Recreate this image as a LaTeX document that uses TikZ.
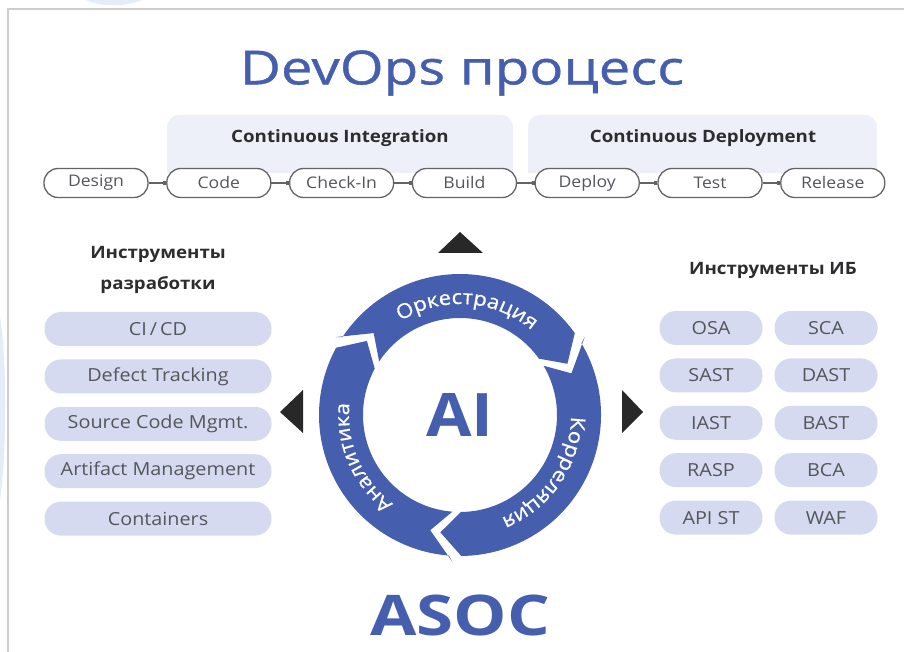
\documentclass[tikz,border=0pt]{standalone}
\usepackage{fontspec}
\setmainfont[FakeStretch=1.1]{Open Sans}
\newfontfamily\widefont[FakeStretch=1.2]{Open Sans}
\newfontfamily\titlefont[FakeStretch=1.2,FakeBold=0.8]{Open Sans}
\newfontfamily\ringfamily[FakeStretch=1.1,FakeBold=0.7]{Open Sans}
\usetikzlibrary{arrows.meta,shapes,positioning,decorations.text}
\definecolor{asocblue}{RGB}{70,94,174}
\definecolor{pilllav}{RGB}{214,218,240}
\definecolor{cibg}{RGB}{237,239,249}
\definecolor{darktext}{RGB}{45,45,48}
\definecolor{graytext}{RGB}{85,85,92}
\definecolor{pillline}{RGB}{100,100,100}
\definecolor{framegray}{RGB}{205,205,205}
\definecolor{marktri}{RGB}{40,40,40}
\definecolor{swirl}{RGB}{228,236,248}
\newcommand{\ringfont}{\ringfamily\fontsize{20}{20}\selectfont}
% one blue piece of the ring, clockwise from #1 to #2
\newcommand{\ringpart}[2]{\fill[asocblue] ({#1+1.5}:147) -- (#1:141) arc[start angle=#1, end angle=#2, radius=141] -- ({#2-10}:119) -- (#2:97) arc[start angle=#2, end angle=#1, radius=97] -- ({#1-10}:119) -- cycle;}
\tikzset{
  stage/.style={draw=pillline, line width=1.3pt, fill=white, rounded corners=14pt, minimum width=104pt, minimum height=29pt, inner sep=0pt, text=graytext, font=\fontsize{16}{16}\selectfont},
  tool/.style={fill=pilllav, rounded corners=16.5pt, minimum height=34pt, inner sep=0pt, text=graytext, font=\fontsize{18}{18}\selectfont},
  devtool/.style={tool, minimum width=227pt},
  sectool/.style={tool, minimum width=103pt},
  link/.style={draw=pillline, line width=1.3pt, -{Square[length=3pt,width=4.5pt]}},
  phase/.style={fill=cibg, rounded corners=12pt},
  head/.style={text=darktext, font=\bfseries\fontsize{17}{31}\selectfont, align=center},
  marker/.style={fill=marktri}
}
\begin{document}
\begin{tikzpicture}[x=1pt,y=1pt]
\useasboundingbox (0,0) rectangle (904,651);
%faint background and frame
\fill[swirl] (86,651) .. controls (100,644) and (125,644) .. (142,651) -- cycle;
\fill[swirl] (0,335) .. controls (7,290) and (7,200) .. (0,150) -- cycle;
\draw[framegray, line width=2pt] (8,-5) -- (8,642) -- (910,642);
%title
\node[text=asocblue, font=\titlefont\fontsize{47}{47}\selectfont] (title) at (462,578) {DevOps процесс};
%CI and CD bands
\fill[phase] (167,478) -- (167,536) -- (513,536) -- (513,478);
\fill[phase] (528,478) -- (528,536) -- (877,536) -- (877,478);
\node[head] (ci) at (340,513) {Continuous Integration};
\node[head] (cd) at (703,513) {Continuous Deployment};
%pipeline
\node[stage] (design) at (96,468) {Design};
\node[stage, right=17.5pt of design] (code) {Code};
\node[stage, right=17.5pt of code] (checkin) {Check-In};
\node[stage, right=17.5pt of checkin] (build) {Build};
\node[stage, right=17.5pt of build] (deploy) {Deploy};
\node[stage, right=17.5pt of deploy] (test) {Test};
\node[stage, right=17.5pt of test] (release) {Release};
\draw[link] (design) -- (code); \draw[link] (code) -- (checkin); \draw[link] (checkin) -- (build);
\draw[link] (build) -- (deploy); \draw[link] (deploy) -- (test); \draw[link] (test) -- (release);
%dev tools
\node[head] (devhead) at (158,381) {Инструменты\\разработки};
\node[devtool] (cicd) at (158,322) {CI\,/\,CD};
\node[devtool, below=13pt of cicd] (defects) {Defect Tracking};
\node[devtool, below=13pt of defects] (scm) {Source Code Mgmt.};
\node[devtool, below=13pt of scm] (artifacts) {Artifact Management};
\node[devtool, below=13pt of artifacts] (containers) {Containers};
%security tools
\node[head] (sechead) at (773,381) {Инструменты ИБ};
\node[sectool] (osa) at (711,323) {OSA};
\node[sectool, below=13pt of osa] (sast) {SAST};
\node[sectool, below=13pt of sast] (iast) {IAST};
\node[sectool, below=13pt of iast] (rasp) {RASP};
\node[sectool, below=13pt of rasp] (apist) {API ST};
\node[sectool] (sca) at (826,323) {SCA};
\node[sectool, below=13pt of sca] (dast) {DAST};
\node[sectool, below=13pt of dast] (bast) {BAST};
\node[sectool, below=13pt of bast] (bca) {BCA};
\node[sectool, below=13pt of bca] (waf) {WAF};
%triangles round the ring
\fill[marker] (460,419) -- (438,398) -- (483,398) -- cycle;
\fill[marker] (280,239) -- (303,261) -- (303,218) -- cycle;
\fill[marker] (643,239) -- (622,261) -- (622,218) -- cycle;
%the ring
\begin{scope}[shift={(460,236)}]
\ringpart{146.5}{35.5}
\ringpart{30.5}{-89.5}
\ringpart{-94.5}{-208.5}
\path[decorate, decoration={text along path, text={|\ringfont|Оркестрация}, text align=center, text color=white}] (144:111) arc[start angle=144, end angle=28, radius=111];
\path[decorate, decoration={text along path, text={|\ringfont|Корреляция}, text align=center, text color=white}] (28:111) arc[start angle=28, end angle=-97, radius=111];
\path[decorate, decoration={text along path, text={|\ringfont|Аналитика}, text align=center, text color=white}] (-97:111) arc[start angle=-97, end angle=-216, radius=111];
\end{scope}
\node[text=asocblue, font=\bfseries\fontsize{60}{60}\selectfont] (ai) at (460,236) {AI};
\node[text=asocblue, font=\widefont\bfseries\fontsize{56}{56}\selectfont] (asoc) at (460,36) {ASOC};
\end{tikzpicture}
\end{document}
